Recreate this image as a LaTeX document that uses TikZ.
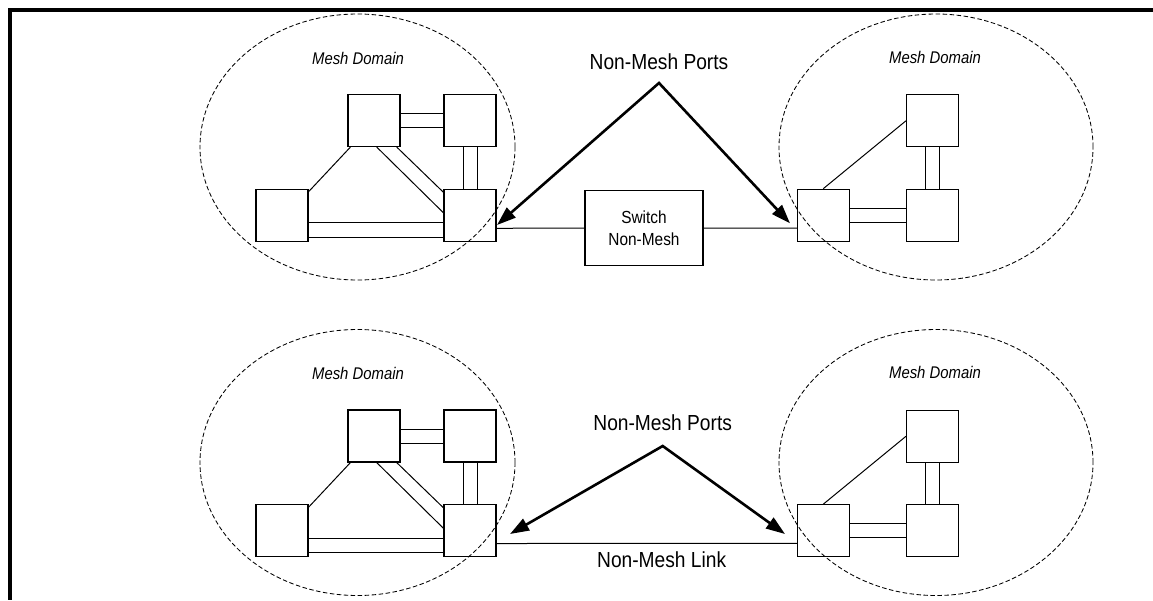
\documentclass[tikz,border=0pt]{standalone}
\usepackage{fontspec}
\setmainfont{Liberation Sans}[FakeStretch=0.88]
\usetikzlibrary{arrows.meta, positioning}

\begin{document}
\begin{tikzpicture}[x=1pt, y=-1pt,
    sw/.style={draw, line width=1.1pt, minimum size=52pt, inner sep=0pt},
    lnk/.style={line width=1pt},
    dom/.style={line width=0.85pt, dash pattern=on 4.5pt off 2.5pt},
    port/.style={line width=2.6pt, line join=miter,
        {Triangle[length=19pt,width=13pt]}-{Triangle[length=19pt,width=13pt]}},
    domlabel/.style={font=\fontsize{16.9}{19}\selectfont\itshape},
    biglabel/.style={font=\fontsize{21.8}{24}\selectfont}]
    \useasboundingbox (0,0) rectangle (1153,600);
    \draw[line width=3.5pt] (1153,10) -- (10,10) -- (10,600);

    % the mesh domains, top row and bottom row
    \foreach \p/\dy in {t/0, b/315.5}{
    \begin{scope}[shift={(0,\dy)}]
        \node[sw] (\p-a) at (374,120.5) {};
        \node[sw] (\p-b) at (470,120.5) {};
        \node[sw] (\p-c) at (282,215.3) {};
        \node[sw] (\p-d) at (470,215.3) {};
        \draw[lnk] ([yshift=7pt]\p-a.east) -- ([yshift=7pt]\p-b.west);
        \draw[lnk] ([yshift=-7pt]\p-a.east) -- ([yshift=-7pt]\p-b.west);
        \draw[lnk] ([xshift=-7pt]\p-b.south) -- ([xshift=-7pt]\p-d.north);
        \draw[lnk] ([xshift=7pt]\p-b.south) -- ([xshift=7pt]\p-d.north);
        \draw[lnk] ([yshift=-7.5pt]\p-c.east) -- ([yshift=-7.5pt]\p-d.west);
        \draw[lnk] ([yshift=-22pt]\p-c.east) -- ([yshift=-22pt]\p-d.west);
        \draw[lnk] ([xshift=3pt]\p-a.south west) -- ([yshift=-3pt]\p-c.north east);
        \draw[lnk] ([xshift=2.7pt]\p-a.south) -- ([yshift=2.5pt]\p-d.west);
        \draw[lnk] ([xshift=22.7pt]\p-a.south) -- ([yshift=23pt]\p-d.west);
        \draw[dom] (357.5,147) ellipse [x radius=157.5pt, y radius=133pt];
        \node[domlabel] (\p-dl) at (358,58) {Mesh Domain};

        \node[sw] (\p-e) at (823.3,215.2) {};
        \node[sw] (\p-f) at (932.5,120.8) {};
        \node[sw] (\p-g) at (932.5,215.2) {};
        \draw[lnk] ([yshift=7pt]\p-e.east) -- ([yshift=7pt]\p-g.west);
        \draw[lnk] ([yshift=-7pt]\p-e.east) -- ([yshift=-7pt]\p-g.west);
        \draw[lnk] ([xshift=-7pt]\p-f.south) -- ([xshift=-7pt]\p-g.north);
        \draw[lnk] ([xshift=7pt]\p-f.south) -- ([xshift=7pt]\p-g.north);
        \draw[lnk] (\p-e.north) -- (\p-f.west);
        \draw[dom] (936,147) ellipse [x radius=157pt, y radius=133pt];
        \node[domlabel] (\p-dr) at (935,57) {Mesh Domain};
    \end{scope}
    }

    % top: link through a non-mesh switch
    \node[draw, line width=1.1pt, minimum width=118pt, minimum height=75pt, align=center,
        font=\fontsize{17.5}{22}\selectfont] (t-sw) at (644,228) {Switch\\Non-Mesh};
    \draw[lnk] ([yshift=-13pt]t-d.east) -- (t-sw.west);
    \draw[lnk] (t-sw.east) -- ([yshift=-13pt]t-e.west);
    \coordinate (t-apex) at (659,83);
    \coordinate (t-pl) at (497,225);
    \coordinate (t-pr) at (790,223.3);
    \draw[port] (t-pl) -- (t-apex) -- (t-pr);
    \node[biglabel, above=10pt of t-apex] (t-ports) {Non-Mesh Ports};

    % bottom: direct non-mesh link
    \draw[lnk] ([yshift=-12.7pt]b-d.east) -- ([yshift=-12.7pt]b-e.west)
        node[pos=0.55, below=4pt, biglabel] (b-link) {Non-Mesh Link};
    \coordinate (b-apex) at (662.7,446);
    \coordinate (b-pl) at (510,534);
    \coordinate (b-pr) at (785,534);
    \draw[port] (b-pl) -- (b-apex) -- (b-pr);
    \node[biglabel, above=11.5pt of b-apex] (b-ports) {Non-Mesh Ports};
\end{tikzpicture}
\end{document}
